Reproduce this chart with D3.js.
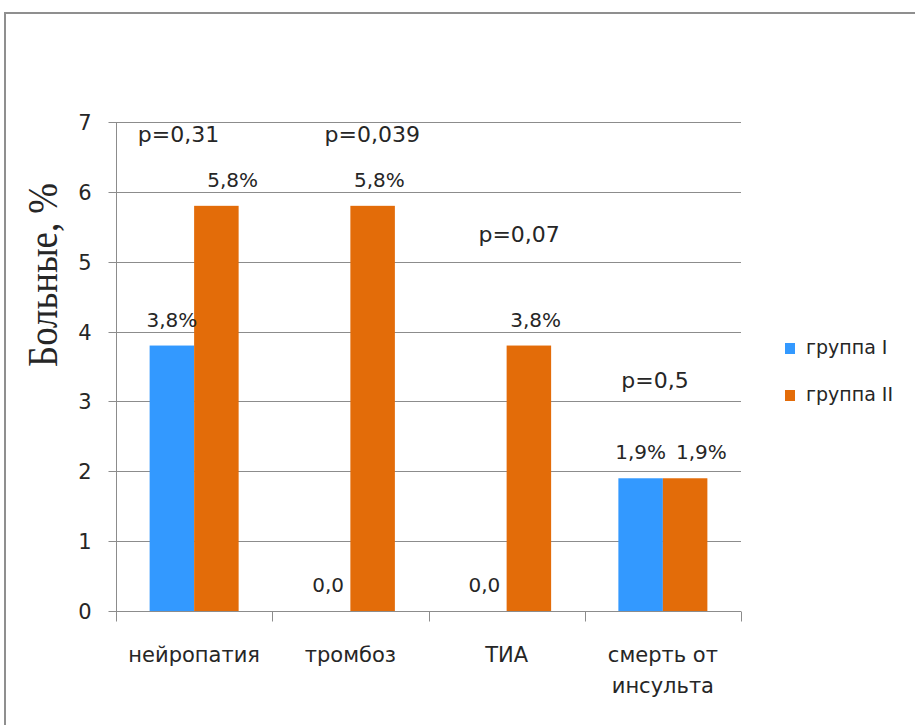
<!DOCTYPE html>
<html>
<head>
<meta charset="utf-8">
<script src="https://cdn.jsdelivr.net/npm/d3@7"></script>
<style>
  html, body { margin: 0; padding: 0; background: #fff; }
  svg { display: block; }
</style>
</head>
<body>
<svg id="chart" width="915" height="725"></svg>
<script>
// ---- data ----
const categories = ["нейропатия", "тромбоз", "ТИА", "смерть от\nинсульта"];
const seriesNames = ["группа I", "группа II"];
const group1 = [3.8, 0, 0, 1.9];
const group2 = [5.8, 5.8, 3.8, 1.9];
const labels1 = ["3,8%", "0,0", "0,0", "1,9%"];
const labels2 = ["5,8%", "5,8%", "3,8%", "1,9%"];
const pTexts = ["p=0,31", "p=0,039", "p=0,07", "p=0,5"];
const pLevels = [6.71, 6.71, 5.28, 3.19];      // vertical level, in axis units
const pOffsets = [-0.10, 0.14, 0.08, -0.05];   // horizontal offset, fraction of category band
const yTicks = [0, 1, 2, 3, 4, 5, 6, 7];
const yTitle = "Больные, %";

(function () {
const colors = ["#3399FF", "#E36C09"];
const textColor = "#262626";
const gridColor = "#8C8C8C";
const font = "'DejaVu Sans', sans-serif";

const svg = d3.select("#chart");

// outer frame
svg.append("rect")
  .attr("x", 5).attr("y", 13)
  .attr("width", 1000).attr("height", 800)
  .attr("fill", "none").attr("stroke", "#8f8f8f").attr("stroke-width", 2);

const pLeft = 116, pRight = 741, pTop = 122, pBottom = 611;

const x0 = d3.scaleBand().domain(d3.range(categories.length)).range([pLeft, pRight]).paddingInner(0).paddingOuter(0);
const groupWidth = 89;
const x1 = d3.scaleBand().domain([0, 1])
  .range([(x0.bandwidth() - groupWidth) / 2, (x0.bandwidth() + groupWidth) / 2]).padding(0);
const y = d3.scaleLinear().domain([0, 7]).range([pBottom, pTop]);

// gridlines
svg.append("g").selectAll("line").data(yTicks).join("line")
  .attr("x1", pLeft).attr("x2", pRight)
  .attr("y1", d => Math.round(y(d)) + 0.5).attr("y2", d => Math.round(y(d)) + 0.5)
  .attr("stroke", gridColor).attr("stroke-width", 1);

// y axis
const yAxis = d3.axisLeft(y).tickValues(yTicks).tickSize(8).tickPadding(17).tickFormat(d3.format("d"));
const gy = svg.append("g").attr("transform", `translate(${pLeft + 0.5},0)`).call(yAxis);
gy.select(".domain").attr("stroke", gridColor).attr("d", `M0,${pTop}V${pBottom + 10}`);
gy.selectAll(".tick").attr("transform", d => `translate(0,${Math.round(y(d)) + 0.5})`);
gy.selectAll(".tick line").attr("stroke", gridColor);
gy.selectAll(".tick text").attr("font-family", font).attr("font-size", 21).attr("fill", textColor).attr("dy", "0.36em");

// x axis
const xAxis = d3.axisBottom(x0).tickSize(0).tickFormat("");
const gx = svg.append("g").attr("transform", `translate(0,${Math.round(pBottom) + 0.5})`).call(xAxis);
gx.select(".domain").attr("stroke", gridColor).attr("d", `M${pLeft},0H${pRight}`);
// category separators
const sepPos = d3.range(categories.length + 1).map(i => i < categories.length ? x0(i) : x0(i - 1) + x0.bandwidth());
gx.selectAll("line.sep").data(sepPos).join("line").attr("class", "sep")
  .attr("x1", d => Math.round(d) + 0.5).attr("x2", d => Math.round(d) + 0.5)
  .attr("y1", 0).attr("y2", 10).attr("stroke", gridColor);

// category labels
const catG = svg.append("g");
categories.forEach((c, i) => {
  const lines = c.split("\n");
  const cx = x0(i) + x0.bandwidth() / 2;
  const t = catG.append("text")
    .attr("x", cx)
    .attr("y", 662)
    .attr("text-anchor", "middle")
    .attr("font-family", font).attr("font-size", 21).attr("fill", textColor);
  lines.forEach((ln, k) => {
    t.append("tspan").attr("x", cx).attr("dy", k === 0 ? 0 : 31).text(ln);
  });
});

// bars
const series = [group1, group2];
const barsG = svg.append("g");
series.forEach((vals, s) => {
  barsG.selectAll(`rect.s${s}`).data(vals).join("rect")
    .attr("class", `s${s}`)
    .attr("x", (d, i) => x0(i) + x1(s))
    .attr("width", x1.bandwidth())
    .attr("y", d => y(d))
    .attr("height", d => y(0) - y(d))
    .attr("fill", colors[s]);
});

// data labels
const labG = svg.append("g").attr("font-family", font).attr("font-size", 20).attr("fill", textColor).attr("text-anchor", "middle");
const allLabels = [labels1, labels2];
categories.forEach((c, i) => {
  let prevRight = -Infinity;
  series.forEach((vals, s) => {
    const cx = x0(i) + x1(s) + x1.bandwidth() / 2;
    const t = labG.append("text").attr("x", cx).attr("y", y(vals[i]) - 19).text(allLabels[s][i]);
    const w = t.node().getComputedTextLength();
    let l = cx - w / 2;
    if (l < prevRight + 10) {
      l = prevRight + 10;
      t.attr("x", l + w / 2);
    }
    prevRight = l + w;
  });
});

// p-value annotations
svg.append("g").selectAll("text").data(pTexts).join("text")
  .attr("x", (d, i) => x0(i) + x0.bandwidth() / 2 + pOffsets[i] * x0.bandwidth())
  .attr("y", (d, i) => y(pLevels[i]))
  .attr("text-anchor", "middle")
  .attr("font-family", font).attr("font-size", 22).attr("fill", textColor)
  .text(d => d);

// y title
svg.append("text")
  .attr("transform", `translate(57,275) rotate(-90)`)
  .attr("text-anchor", "middle")
  .attr("font-family", "'Liberation Serif', 'Times New Roman', serif")
  .attr("font-size", 43)
  .attr("textLength", 184).attr("lengthAdjust", "spacingAndGlyphs")
  .attr("fill", textColor)
  .text(yTitle);

// legend
const legY = [354, 401];
const leg = svg.append("g");
seriesNames.forEach((n, s) => {
  leg.append("rect").attr("x", 785).attr("y", legY[s] - 11).attr("width", 10).attr("height", 11).attr("fill", colors[s]);
  leg.append("text").attr("x", 806).attr("y", legY[s])
    .attr("font-family", font).attr("font-size", 19).attr("fill", textColor).text(n);
});
})();
</script>
</body>
</html>
